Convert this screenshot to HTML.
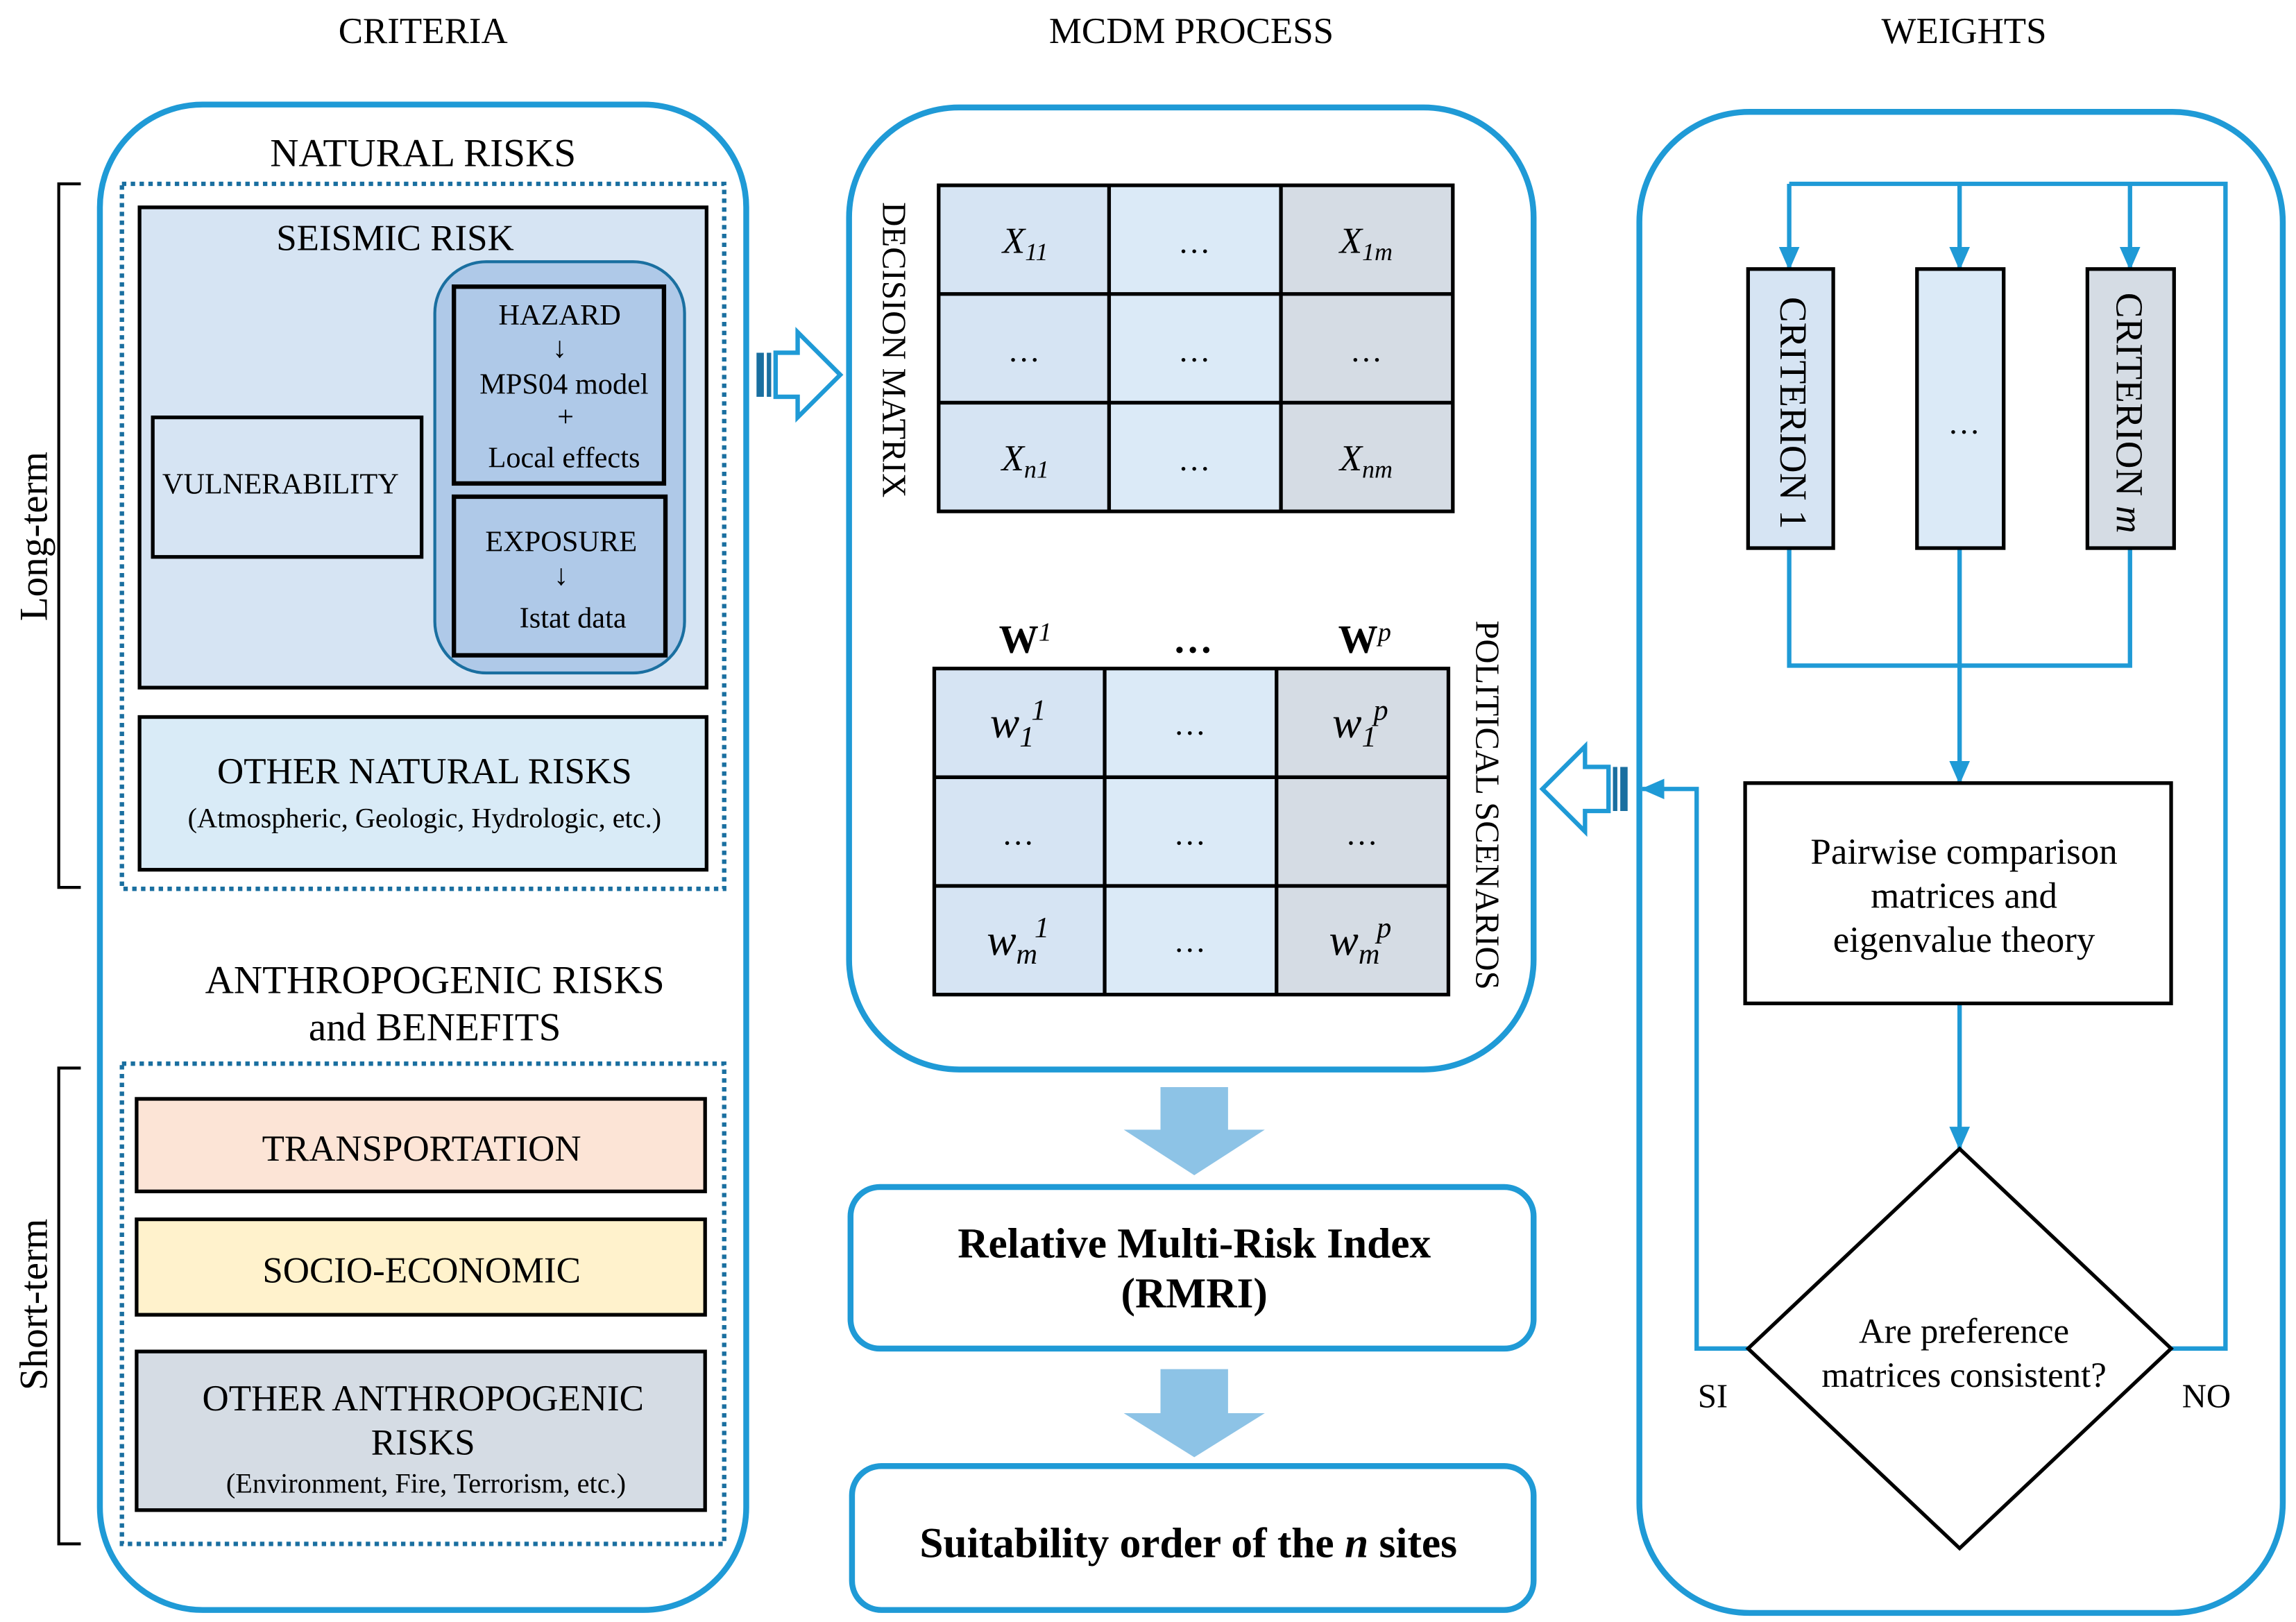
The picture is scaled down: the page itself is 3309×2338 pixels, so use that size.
<!DOCTYPE html>
<html><head><meta charset="utf-8"><style>html,body{margin:0;padding:0;background:#fff}svg{display:block}text{font-family:"Liberation Serif",serif;fill:#000}</style></head>
<body>
<svg width="3309" height="2338" viewBox="0 0 1563 1104" xmlns="http://www.w3.org/2000/svg">
<defs>
<marker id="ah" markerWidth="16" markerHeight="14" refX="15" refY="7" orient="auto" markerUnits="userSpaceOnUse" viewBox="0 0 16 14"><path d="M0,0 L16,7 L0,14 z" fill="#1f9ad6"/></marker>
</defs>
<rect width="1563" height="1104" fill="#fff"/>
<g font-size="25" text-anchor="middle">
<text x="288" y="29">CRITERIA</text>
<text x="811" y="29">MCDM PROCESS</text>
<text x="1337" y="29">WEIGHTS</text>
</g>

<!-- LEFT -->
<rect x="68" y="71" width="440" height="1025" rx="70" fill="none" stroke="#1f9ad6" stroke-width="4"/>
<text x="288" y="113" font-size="27" text-anchor="middle">NATURAL RISKS</text>
<rect x="83" y="125" width="410" height="480" fill="none" stroke="#1a6fa0" stroke-width="3" stroke-dasharray="3 3"/>
<rect x="95" y="141" width="386" height="327" fill="#d6e4f3" stroke="#000" stroke-width="2.5"/>
<text x="269" y="170" font-size="25" text-anchor="middle">SEISMIC RISK</text>
<rect x="296" y="178" width="170" height="280" rx="35" fill="#afc9e8" stroke="#1a6fa0" stroke-width="2"/>
<rect x="309" y="195" width="143" height="134" fill="#afc9e8" stroke="#000" stroke-width="3"/>
<rect x="309" y="338" width="144" height="108" fill="#afc9e8" stroke="#000" stroke-width="3"/>
<g font-size="20" text-anchor="middle">
<text x="381" y="221">HAZARD</text>
<text x="381" y="243">↓</text>
<text x="384" y="268">MPS04 model</text>
<text x="385" y="290">+</text>
<text x="384" y="318">Local effects</text>
<text x="382" y="375">EXPOSURE</text>
<text x="382" y="398">↓</text>
<text x="390" y="427">Istat data</text>
</g>
<rect x="104" y="284" width="183" height="95" fill="#d6e4f3" stroke="#000" stroke-width="2.5"/>
<text x="191" y="336" font-size="20" text-anchor="middle">VULNERABILITY</text>
<rect x="95" y="488" width="386" height="104" fill="#d9ebf7" stroke="#000" stroke-width="2.5"/>
<text x="289" y="533" font-size="25" text-anchor="middle">OTHER NATURAL RISKS</text>
<text x="289" y="563" font-size="19" text-anchor="middle">(Atmospheric, Geologic, Hydrologic, etc.)</text>

<path d="M55,125 H40 V604 H55" fill="none" stroke="#000" stroke-width="2"/>
<text transform="translate(32,365) rotate(-90)" font-size="27" text-anchor="middle">Long-term</text>
<path d="M55,727 H40 V1051 H55" fill="none" stroke="#000" stroke-width="2"/>
<text transform="translate(32,888) rotate(-90)" font-size="27" text-anchor="middle">Short-term</text>

<text x="296" y="676" font-size="27" text-anchor="middle">ANTHROPOGENIC RISKS</text>
<text x="296" y="708" font-size="27" text-anchor="middle">and BENEFITS</text>
<rect x="83" y="724" width="410" height="327" fill="none" stroke="#1a6fa0" stroke-width="3" stroke-dasharray="3 3"/>
<rect x="93" y="748" width="387" height="63" fill="#fce4d6" stroke="#000" stroke-width="2.5"/>
<text x="287" y="790" font-size="25" text-anchor="middle">TRANSPORTATION</text>
<rect x="93" y="830" width="387" height="65" fill="#fff2cc" stroke="#000" stroke-width="2.5"/>
<text x="287" y="873" font-size="25" text-anchor="middle">SOCIO-ECONOMIC</text>
<rect x="93" y="920" width="387" height="108" fill="#d5dce4" stroke="#000" stroke-width="2.5"/>
<text x="288" y="960" font-size="25" text-anchor="middle">OTHER ANTHROPOGENIC</text>
<text x="288" y="990" font-size="25" text-anchor="middle">RISKS</text>
<text x="290" y="1016" font-size="19" text-anchor="middle">(Environment, Fire, Terrorism, etc.)</text>

<!-- MIDDLE -->
<rect x="578" y="73" width="466" height="655" rx="75" fill="none" stroke="#1f9ad6" stroke-width="4"/>
<rect x="639" y="126" width="116" height="222" fill="#d6e4f3"/>
<rect x="755" y="126" width="117" height="222" fill="#dbeaf7"/>
<rect x="872" y="126" width="117" height="222" fill="#d5dce4"/>
<path d="M639,126 H989 V348 H639 Z M755,126 V348 M872,126 V348 M639,200 H989 M639,274 H989" fill="none" stroke="#000" stroke-width="2.5"/>
<g font-size="25" text-anchor="middle" font-style="italic">
<text x="698" y="172">X<tspan font-size="17" dy="5">11</tspan></text>
<text x="930" y="172">X<tspan font-size="17" dy="5">1m</tspan></text>
<text x="698" y="320">X<tspan font-size="17" dy="5">n1</tspan></text>
<text x="930" y="320">X<tspan font-size="17" dy="5">nm</tspan></text>
</g>
<g font-size="22" text-anchor="middle">
<text x="813" y="172">…</text><text x="697" y="246">…</text><text x="813" y="246">…</text><text x="930" y="246">…</text><text x="813" y="320">…</text>
</g>
<text transform="translate(601,238) rotate(90)" font-size="23" text-anchor="middle">DECISION MATRIX</text>

<text x="698" y="444" font-size="27" font-weight="bold" text-anchor="middle">W<tspan font-weight="normal" font-style="italic" font-size="18" dy="-8">1</tspan></text>
<text x="812" y="444" font-size="27" font-weight="bold" text-anchor="middle">…</text>
<text x="929" y="444" font-size="27" font-weight="bold" text-anchor="middle">W<tspan font-weight="normal" font-style="italic" font-size="18" dy="-8">p</tspan></text>
<rect x="636" y="455" width="116" height="222" fill="#d6e4f3"/>
<rect x="752" y="455" width="117" height="222" fill="#dbeaf7"/>
<rect x="869" y="455" width="117" height="222" fill="#d5dce4"/>
<path d="M636,455 H986 V677 H636 Z M752,455 V677 M869,455 V677 M636,529 H986 M636,603 H986" fill="none" stroke="#000" stroke-width="2.5"/>
<g font-size="30" text-anchor="middle" font-style="italic">
<text x="693" y="502">w<tspan font-size="20" dy="6">1</tspan><tspan font-size="20" dy="-18" dx="-2">1</tspan></text>
<text x="926" y="502">w<tspan font-size="20" dy="6">1</tspan><tspan font-size="20" dy="-18" dx="-2">p</tspan></text>
<text x="693" y="650">w<tspan font-size="20" dy="6">m</tspan><tspan font-size="20" dy="-18" dx="-2">1</tspan></text>
<text x="926" y="650">w<tspan font-size="20" dy="6">m</tspan><tspan font-size="20" dy="-18" dx="-2">p</tspan></text>
</g>
<g font-size="22" text-anchor="middle">
<text x="810" y="500">…</text><text x="693" y="575">…</text><text x="810" y="575">…</text><text x="927" y="575">…</text><text x="810" y="648">…</text>
</g>
<text transform="translate(1005,548) rotate(90)" font-size="23" text-anchor="middle">POLITICAL SCENARIOS</text>

<!-- hollow arrows -->
<path d="M528,240 H543 V226 L572,255 L543,284 V270 H528 Z" fill="#fff" stroke="#1f9ad6" stroke-width="3"/>
<rect x="515" y="240" width="5" height="30" fill="#1a6fa0"/><rect x="522" y="240" width="3" height="30" fill="#1a6fa0"/>
<path d="M1095,522 H1079 V508 L1050,537 L1079,566 V552 H1095 Z" fill="#fff" stroke="#1f9ad6" stroke-width="3"/>
<rect x="1098" y="522" width="3" height="30" fill="#1a6fa0"/><rect x="1103" y="522" width="5" height="30" fill="#1a6fa0"/>

<!-- down arrows -->
<path d="M790,740 H836 V769 H861 L813,800 L765,769 H790 Z" fill="#8dc3e6"/>
<path d="M790,932 H836 V962 H861 L813,992 L765,962 H790 Z" fill="#8dc3e6"/>
<rect x="579" y="808" width="465" height="110" rx="20" fill="none" stroke="#1f9ad6" stroke-width="4"/>
<text x="813" y="856" font-size="29" font-weight="bold" text-anchor="middle">Relative Multi-Risk Index</text>
<text x="813" y="890" font-size="29" font-weight="bold" text-anchor="middle">(RMRI)</text>
<rect x="580" y="998" width="464" height="98" rx="20" fill="none" stroke="#1f9ad6" stroke-width="4"/>
<text x="809" y="1060" font-size="29" font-weight="bold" text-anchor="middle">Suitability order of the <tspan font-style="italic">n</tspan> sites</text>

<!-- RIGHT -->
<rect x="1116" y="76" width="438" height="1022" rx="75" fill="none" stroke="#1f9ad6" stroke-width="4"/>
<g fill="none" stroke="#1f9ad6" stroke-width="3">
<path d="M1218,125 H1515 V918 H1478"/>
<path d="M1218,125 V183" marker-end="url(#ah)"/>
<path d="M1334,125 V183" marker-end="url(#ah)"/>
<path d="M1450,125 V183" marker-end="url(#ah)"/>
<path d="M1218,373 V453 H1450 V373 M1334,373 V453"/>
<path d="M1334,453 V533" marker-end="url(#ah)"/>
<path d="M1334,683 V782" marker-end="url(#ah)"/>
<path d="M1190,918 H1155 V537 H1118" marker-end="url(#ah)"/>
</g>
<rect x="1190" y="183" width="58" height="190" fill="#d6e4f3" stroke="#000" stroke-width="2.5"/>
<rect x="1305" y="183" width="59" height="190" fill="#dbeaf7" stroke="#000" stroke-width="2.5"/>
<rect x="1421" y="183" width="59" height="190" fill="#d5dce4" stroke="#000" stroke-width="2.5"/>
<text transform="translate(1212,281) rotate(90)" font-size="26" text-anchor="middle">CRITERION 1</text>
<text x="1337" y="295" font-size="22" text-anchor="middle">…</text>
<text transform="translate(1441,281) rotate(90)" font-size="26" text-anchor="middle">CRITERION <tspan font-style="italic">m</tspan></text>
<rect x="1188" y="533" width="290" height="150" fill="#fff" stroke="#000" stroke-width="2.5"/>
<g font-size="25" text-anchor="middle">
<text x="1337" y="588">Pairwise comparison</text>
<text x="1337" y="618">matrices and</text>
<text x="1337" y="648">eigenvalue theory</text>
</g>
<path d="M1334,782 L1478,918 L1334,1054 L1190,918 Z" fill="#fff" stroke="#000" stroke-width="2.5"/>
<text x="1337" y="914" font-size="24" text-anchor="middle">Are preference</text>
<text x="1337" y="944" font-size="24" text-anchor="middle">matrices consistent?</text>
<text x="1166" y="958" font-size="23" text-anchor="middle">SI</text>
<text x="1502" y="958" font-size="23" text-anchor="middle">NO</text>
</svg>
</body></html>
